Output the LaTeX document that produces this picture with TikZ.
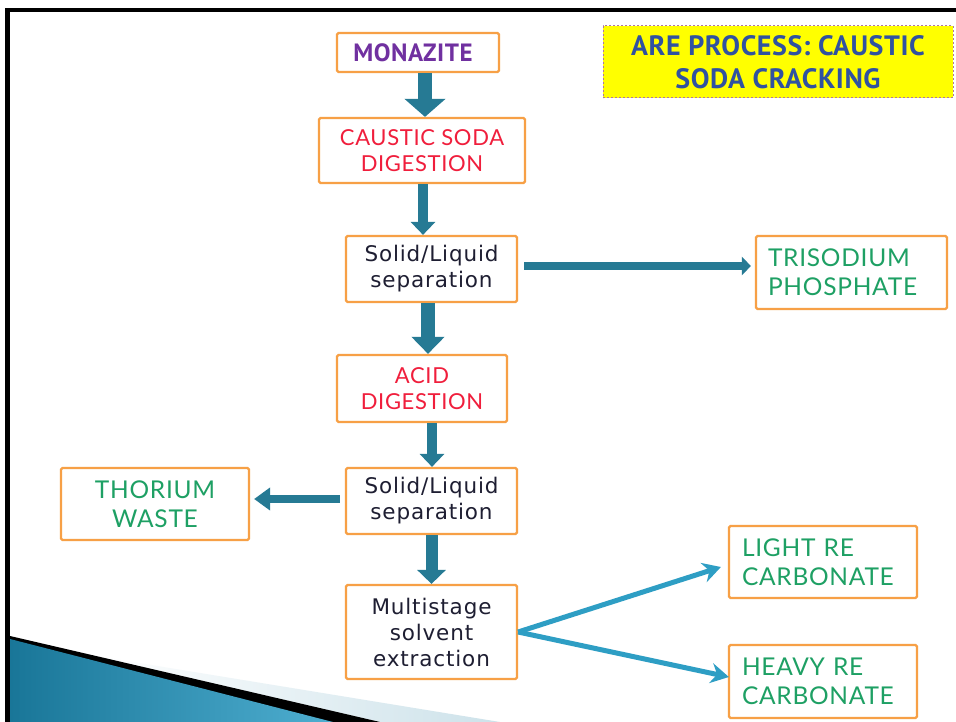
\documentclass[tikz,border=0pt]{standalone}
\usepackage{fontspec}
\setmainfont{DejaVu Sans}
\newfontfamily\sepfont[LetterSpace=4]{DejaVu Sans}
\newfontfamily\labfont[LetterSpace=3]{Lato}
\newfontfamily\ttlfont{PT Sans}
\newfontfamily\ttlwide[LetterSpace=2]{PT Sans}
\usetikzlibrary{arrows.meta}
\definecolor{boxor}{RGB}{247,160,70}
\definecolor{arrteal}{RGB}{38,122,148}
\definecolor{arrblue}{RGB}{46,158,196}
\definecolor{redtxt}{RGB}{240,30,60}
\definecolor{greentxt}{RGB}{30,160,100}
\definecolor{purp}{RGB}{112,48,160}
\definecolor{titleblue}{RGB}{48,82,160}
\definecolor{darktxt}{RGB}{30,30,50}
\definecolor{dashc}{RGB}{175,120,160}
\definecolor{ttlyellow}{RGB}{255,255,0}
\definecolor{swdark}{RGB}{25,118,152}
\definecolor{swlight}{RGB}{78,174,208}
\definecolor{swpale}{RGB}{205,226,234}
\begin{document}
\begin{tikzpicture}[x=1pt,y=-1pt,
  box/.style={draw=boxor,line width=2.2pt,fill=white,rounded corners=1.5pt,inner sep=0pt,align=center},
  sepbox/.style={box,text=darktxt,font=\sepfont\fontsize{21.5}{26}\selectfont},
  redbox/.style={box,text=redtxt,font=\labfont\fontsize{22}{26}\selectfont},
  greenbox/.style={box,text=greentxt,font=\labfont\fontsize{24.5}{29}\selectfont},
  flowA/.style={draw=arrteal,line width=14pt,-{Triangle[width=40pt,length=18pt]}},
  flowB/.style={draw=arrteal,line width=10pt,-{Triangle[width=24pt,length=13pt]}},
  flowC/.style={draw=arrteal,line width=12pt,-{Triangle[width=28pt,length=14pt]}},
  flowS/.style={draw=arrteal,line width=7pt,-{Triangle[width=18pt,length=9pt]}},
  flowL/.style={draw=arrblue,line width=5pt,-{Stealth[width=20pt,length=18pt,inset=6pt]}}
]
\useasboundingbox (0,0) rectangle (956,722);
\fill[white] (0,0) rectangle (956,722);

% swoosh at bottom left
\shade[left color=white,right color=swpale] (90,655) -- (500,722) -- (380,722) -- cycle;
\fill[black] (10,636) -- (380,722) -- (10,722) -- cycle;
\shade[left color=swdark,right color=swlight] (10,639) -- (333,722) -- (10,722) -- cycle;

% frame
\fill[black] (5,8) rectangle (956,12);
\fill[black] (5,8) rectangle (10,722);

% title
\node[draw=dashc,line width=1pt,dash pattern=on 2pt off 2pt,fill=ttlyellow,inner sep=0pt,
  minimum width=350pt,minimum height=72pt,align=center,text=titleblue,
  font=\ttlwide\bfseries\fontsize{28}{33}\selectfont] (ttl) at (778,62)
  {ARE PROCESS: CAUSTIC\\SODA CRACKING};

% boxes
\node[box,minimum width=162pt,minimum height=39pt,text=purp,
  font=\ttlwide\bfseries\fontsize{25}{28}\selectfont] (mon) at (418,52.5) {MONAZITE\hspace{10pt}};
\node[redbox,minimum width=206pt,minimum height=65pt] (cau) at (422,150.5) {CAUSTIC SODA\\DIGESTION};
\node[sepbox,minimum width=171pt,minimum height=66pt] (sl1) at (431.5,269) {Solid/Liquid\\separation};
\node[greenbox,align=left,text width=167pt,minimum width=191pt,minimum height=73pt] (tri) at (851.5,272.5) {TRISODIUM\\PHOSPHATE};
\node[redbox,minimum width=170pt,minimum height=67pt] (acid) at (422,388.5) {ACID\\DIGESTION};
\node[sepbox,minimum width=171pt,minimum height=66pt] (sl2) at (431.5,501) {Solid/Liquid\\separation};
\node[greenbox,minimum width=188pt,minimum height=72pt] (tho) at (155,504) {THORIUM\\WASTE};
\node[sepbox,minimum width=171pt,minimum height=94pt] (mul) at (431.5,632) {Multistage\\solvent\\extraction};
\node[greenbox,align=left,text width=162pt,minimum width=188pt,minimum height=72pt] (lig) at (823,562) {LIGHT RE\\CARBONATE};
\node[greenbox,align=left,text width=162pt,minimum width=188pt,minimum height=73pt] (hea) at (823,681.5) {HEAVY RE\\CARBONATE};

% vertical flow arrows
\coordinate (a1) at ([xshift=7pt]mon.south);
\draw[flowA] (a1) -- (a1 |- cau.north);
\coordinate (a2) at ([xshift=1pt]cau.south);
\draw[flowB] (a2) -- (a2 |- sl1.north);
\coordinate (a3) at ([xshift=-3.5pt]sl1.south);
\draw[flowA,-{Triangle[width=32pt,length=17pt]}] (a3) -- (a3 |- acid.north);
\coordinate (a4) at ([xshift=10pt]acid.south);
\draw[flowB] (a4) -- (a4 |- sl2.north);
\coordinate (a5) at (sl2.south);
\draw[flowC] (a5) -- (a5 |- mul.north);

% side arrows
\coordinate (t1) at ([xshift=6pt,yshift=3pt]sl1.east);
\draw[flowS,shorten >=4pt] (t1) -- (t1 -| tri.west);
\coordinate (t2) at ([xshift=-5pt,yshift=2pt]sl2.west);
\draw[draw=arrteal,line width=8pt,-{Triangle[width=22pt,length=16pt]},shorten >=4pt] (t2) -- (t2 -| tho.east);

% branch arrows
\coordinate (m1) at (mul.east);
\draw[flowL] (m1) -- ([xshift=-7pt,yshift=-5pt]lig.west);
\draw[flowL] (m1) -- ([xshift=1pt,yshift=4.5pt]hea.west);
\end{tikzpicture}
\end{document}
